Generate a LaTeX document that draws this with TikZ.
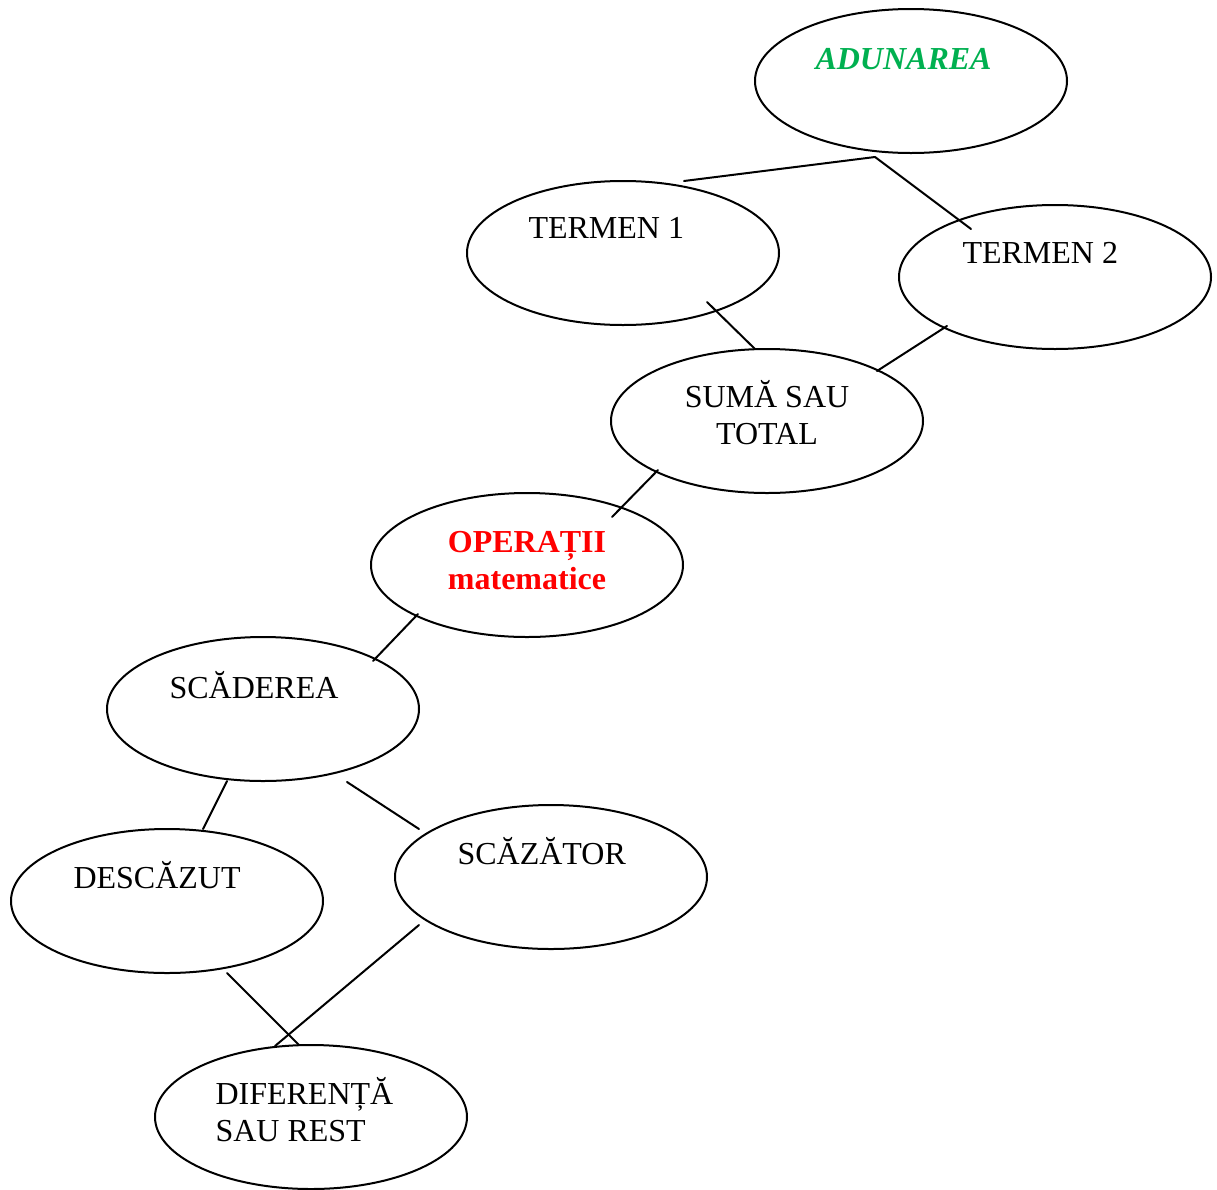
\documentclass[tikz,border=0pt]{standalone}
\usepackage{fontspec}
\setmainfont{Liberation Serif}
\usepackage{tikz}
\usetikzlibrary{shapes.geometric,calc}

\definecolor{verde}{RGB}{0,176,80}
\definecolor{rosu}{RGB}{255,0,0}

\begin{document}
\begin{tikzpicture}[
	x=0.375pt, y=-0.375pt,
	balon/.style={draw, ellipse, line width=0.75pt, minimum width=117pt, minimum height=54pt, inner sep=0pt},
	scris/.style={inner sep=0pt, font=\fontsize{12}{13.8}\selectfont},
	scrisgros/.style={inner sep=0pt, font=\fontsize{12}{13.8}\selectfont\bfseries},
	legatura/.style={line width=0.75pt},
	line cap=round,
	line join=round
	]
	
	% Page frame
	\useasboundingbox (0,0) rectangle (1217,1189);
	
	% Ellipses
	\node[balon] (adunarea) at (911,81) {};
	\node[balon] (t1) at (623,253) {};
	\node[balon] (t2) at (1055,277) {};
	\node[balon] (suma) at (767,421) {};
	\node[balon] (op) at (527,565) {};
	\node[balon] (scad) at (263,709) {};
	\node[balon] (desc) at (167,901) {};
	\node[balon] (scaz) at (551,877) {};
	\node[balon] (dif) at (311,1117) {};
	
	% Texts (two-line ones sit on the baseline of their last line)
	\node[scrisgros, anchor=base west, text=verde, font=\fontsize{12}{13.8}\selectfont\bfseries\itshape] (tadunarea) at (815,69) {ADUNAREA};
	\node[scris, anchor=base west] (tt1) at (528,238) {TERMEN 1};
	\node[scris, anchor=base west] (tt2) at (962,263) {TERMEN 2};
	\node[scris, anchor=base, align=center] (tsuma) at (767,444) {SUMĂ SAU\\TOTAL};
	\node[scrisgros, anchor=base, align=center, text=rosu] (top) at (527,589) {OPERAȚII\\matematice};
	\node[scris, anchor=base west] (tscad) at (169,698) {SCĂDEREA};
	\node[scris, anchor=base west] (tdesc) at (73,888) {DESCĂZUT};
	\node[scris, anchor=base west] (tscaz) at (457,864) {SCĂZĂTOR};
	\node[scris, anchor=base west, align=left] (tdif) at (215,1141) {DIFERENȚĂ\\SAU REST};
	
	% Addition branch
	\coordinate (ramura) at (875,157);
	\draw[legatura] ($(t1.center)+(61,-72)$) -- (ramura) -- ($(t2.center)+(-84,-48)$);
	\draw[legatura] ($(t1.center)+(84,49)$) -- ($(suma.center)+(-12,-72)$);
	\draw[legatura] ($(t2.center)+(-108,49)$) -- ($(suma.center)+(110,-50)$);
	\draw[legatura] ($(suma.center)+(-109,49)$) -- ($(op.center)+(85,-48)$);
	
	% Subtraction branch
	\draw[legatura] ($(op.center)+(-109,49)$) -- ($(scad.center)+(110,-48)$);
	\draw[legatura] ($(scad.center)+(-36,72)$) -- ($(desc.center)+(36,-72)$);
	\draw[legatura] ($(scad.center)+(84,73)$) -- ($(scaz.center)+(-132,-48)$);
	\draw[legatura] ($(desc.center)+(60,72)$) -- ($(dif.center)+(-12,-72)$);
	\draw[legatura] ($(scaz.center)+(-132,48)$) -- ($(dif.center)+(-36,-71)$);
	
\end{tikzpicture}
\end{document}
